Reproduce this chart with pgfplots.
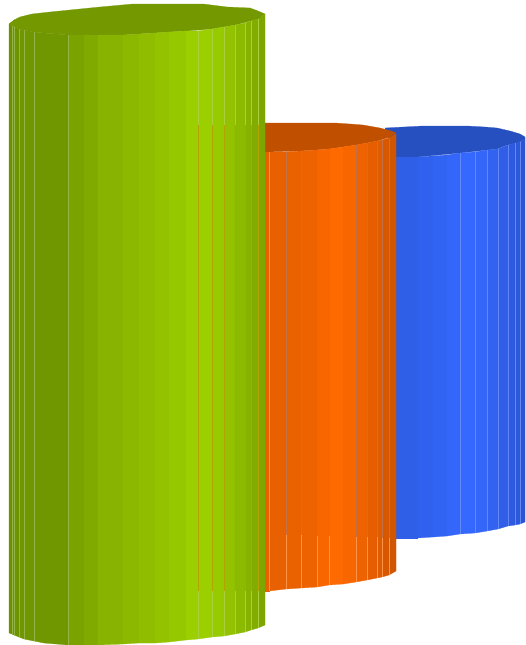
\documentclass[border=0pt]{standalone}
\usepackage{pgfplots}
\pgfplotsset{compat=1.18}
\definecolor{gtop}{HTML}{749800}
\definecolor{otop}{HTML}{C05000}
\definecolor{btop}{HTML}{2650C0}
\definecolor{gline}{HTML}{94B448}
\definecolor{gline2}{HTML}{ACD03C}
\definecolor{goline}{HTML}{B4A400}
\definecolor{oline}{HTML}{FF9448}
\definecolor{oline2}{HTML}{C47048}
\definecolor{bline}{HTML}{6288FA}
% green bands
\definecolor{ga}{HTML}{6C9000}\definecolor{gb}{HTML}{6E9300}\definecolor{gc}{HTML}{709600}
\definecolor{gd}{HTML}{7AA300}\definecolor{ge}{HTML}{80AA00}\definecolor{gf}{HTML}{88B300}
\definecolor{gg}{HTML}{8CB800}\definecolor{gh}{HTML}{90BD00}\definecolor{gi}{HTML}{92C200}
\definecolor{gj}{HTML}{96C800}\definecolor{gk}{HTML}{9CCF00}\definecolor{gl}{HTML}{98CA00}
\definecolor{gm}{HTML}{92C200}\definecolor{gn}{HTML}{8CBA00}\definecolor{go}{HTML}{86B200}
\definecolor{gp}{HTML}{82AD00}\definecolor{gq}{HTML}{7EA600}
% orange bands
\definecolor{oa}{HTML}{E86000}\definecolor{ob}{HTML}{EA6100}\definecolor{oc}{HTML}{EE6200}
\definecolor{od}{HTML}{F86600}\definecolor{oe}{HTML}{FF6A00}\definecolor{of}{HTML}{F86600}
\definecolor{og}{HTML}{EE6200}\definecolor{oh}{HTML}{E65E00}\definecolor{oi}{HTML}{E05C00}
\definecolor{oj}{HTML}{D85800}\definecolor{ok}{HTML}{D05600}
% blue bands
\definecolor{ba}{HTML}{2E5FE6}\definecolor{bb}{HTML}{3060EE}\definecolor{bc}{HTML}{3264F4}
\definecolor{bd}{HTML}{3466FA}\definecolor{be}{HTML}{3468FF}\definecolor{bf}{HTML}{3466FA}
\definecolor{bg}{HTML}{3262F0}\definecolor{bh}{HTML}{305EE6}\definecolor{bi}{HTML}{2E5AE0}
\definecolor{bj}{HTML}{2C58DA}\definecolor{bk}{HTML}{2A54D2}
\newcommand{\F}[7]{\addplot[fill=#1,draw=#1,line width=0.25pt,mark=none] coordinates {(#2,#3)(#5,#6)(#5,#7)(#2,#4)} -- cycle;}
\newcommand{\Ln}[4]{\addplot[draw=#1,line width=0.5pt,mark=none] coordinates {(#2,#3)(#2,#4)};}
\begin{document}
\begin{tikzpicture}
\useasboundingbox (0,0) rectangle (525pt,645pt);
\begin{axis}[hide axis,scale only axis,width=525pt,height=645pt,anchor=south west,at={(0,0)},
  xmin=0,xmax=525,ymin=0,ymax=645,y dir=reverse,clip=true]
% ---------- blue
\addplot[fill=btop,draw=btop,line width=0.25pt,mark=none] coordinates {(385,128)(423,126)(467,126)(485,127)(497,128)(510,131)(520,134)(525,137)(525,139)(517,143)(507,145)(497,149)(487,150)(460,153)(417,157)(396,157)} -- cycle;
\F{ba}{396}{157}{538}{417}{157}{538}
\F{bb}{417}{157}{538}{433}{156}{537}
\F{bc}{433}{156}{537}{447}{155}{536}
\F{bd}{447}{155}{536}{460}{153}{534}
\F{be}{460}{153}{534}{475}{152}{533}
\F{bf}{475}{152}{533}{487}{150}{531}
\F{bg}{487}{150}{531}{498}{149}{529}
\F{bh}{498}{149}{529}{508}{145}{526}
\F{bi}{508}{145}{526}{515}{143}{525}
\F{bj}{515}{143}{525}{520}{142}{524}
\F{bk}{520}{142}{524}{525}{139}{522}
\Ln{bline}{460}{153}{534}\Ln{bline}{475}{152}{533}\Ln{bline}{487}{150}{531}
\Ln{bline}{498}{149}{529}\Ln{bline}{508}{145}{526}\Ln{bline}{515}{143}{525}\Ln{bline}{520}{142}{524}
% ---------- orange
\addplot[fill=otop,draw=otop,line width=0.25pt,mark=none] coordinates {(200,123)(335,123)(350,124)(363,125)(380,128)(391,131)(396,133)(390,137)(377,141)(356,145)(329,149)(300,151)(265,152)(200,152)} -- cycle;
\F{oa}{200}{152}{591}{269}{152}{591}
\F{oa}{269}{152}{591}{286}{152}{589}
\F{ob}{286}{152}{589}{301}{151}{588}
\F{oc}{301}{151}{588}{317}{150}{587}
\F{od}{317}{150}{587}{329}{149}{585}
\F{oe}{329}{149}{585}{343}{147}{584}
\F{of}{343}{147}{584}{356}{145}{582}
\F{og}{356}{145}{582}{367}{143}{580}
\F{oh}{367}{143}{580}{377}{141}{578}
\F{oi}{377}{141}{578}{382}{140}{577}
\F{oj}{382}{140}{577}{389}{138}{575}
\F{ok}{389}{138}{575}{396}{134}{571}
\Ln{oline}{269}{152}{591}
\Ln{oline2}{286}{152}{535}\Ln{oline}{286}{535}{589}
\Ln{oline2}{301}{151}{535}\Ln{oline}{301}{535}{588}
\Ln{oline2}{317}{150}{536}\Ln{oline}{317}{536}{587}
\Ln{oline2}{329}{149}{536}\Ln{oline}{329}{536}{585}
\Ln{oline2}{356}{145}{537}\Ln{oline}{356}{537}{582}
\Ln{oline2}{367}{143}{537}\Ln{oline}{367}{537}{580}
\Ln{oline2}{377}{141}{537}\Ln{oline}{377}{537}{578}
\Ln{oline2}{382}{140}{538}\Ln{oline}{382}{538}{577}
\Ln{oline2}{389}{138}{538}\Ln{oline}{389}{538}{575}
% ---------- green
\addplot[fill=gtop,draw=gtop,line width=0.25pt,mark=none] coordinates {(9,24)(14,20)(20,17)(32,14)(50,12)(100,7)(133,4)(203,4)(227,7)(250,8)(258,11)(265,14)(258,19)(235,25)(212,29)(186,31)(153,33)(123,35)(68,35)(34,32)(19,29)} -- cycle;
\F{ga}{9}{24}{633}{12}{26}{634}
\F{gb}{12}{26}{634}{14}{27}{635}
\F{gb}{14}{27}{635}{19}{29}{637}
\F{gc}{19}{29}{637}{24}{30}{639}
\F{gc}{24}{30}{639}{34}{32}{641}
\F{gc}{34}{32}{641}{44}{33}{643}
\F{gc}{44}{33}{643}{68}{35}{645}
\F{gd}{68}{35}{645}{84}{35}{645}
\F{ge}{84}{35}{645}{98}{35}{645}
\F{gf}{98}{35}{645}{123}{35}{644}
\F{gg}{123}{35}{644}{139}{34}{643}
\F{gh}{139}{34}{643}{155}{33}{643}
\F{gi}{155}{33}{643}{169}{32}{642}
\F{gj}{169}{32}{642}{186}{31}{640}
\F{gk}{186}{31}{640}{198}{31}{639}
\F{gk}{198}{31}{639}{212}{29}{637}
\F{gl}{212}{29}{637}{224}{27}{636}
\F{gm}{224}{27}{636}{235}{25}{634}
\F{gn}{235}{25}{634}{245}{23}{632}
\F{go}{245}{23}{632}{251}{21}{630}
\F{gp}{251}{21}{630}{258}{19}{628}
\F{gq}{258}{19}{628}{265}{14}{625}
\Ln{gline}{12}{26}{634}\Ln{gline}{14}{27}{635}\Ln{gline}{19}{29}{637}
\Ln{gline}{24}{30}{639}\Ln{gline}{34}{32}{641}\Ln{gline}{68}{35}{645}
\Ln{gline2}{198}{31}{125}\Ln{goline}{198}{125}{591}\Ln{gline2}{198}{591}{639}
\Ln{gline2}{212}{29}{125}\Ln{goline}{212}{125}{591}\Ln{gline2}{212}{591}{637}
\Ln{gline2}{224}{27}{125}\Ln{goline}{224}{125}{591}\Ln{gline2}{224}{591}{636}
\Ln{gline2}{235}{25}{125}\Ln{goline}{235}{125}{591}\Ln{gline2}{235}{591}{634}
\Ln{gline2}{245}{23}{125}\Ln{goline}{245}{125}{591}\Ln{gline2}{245}{591}{632}
\Ln{gline2}{251}{21}{125}\Ln{goline}{251}{125}{591}\Ln{gline2}{251}{591}{630}
\Ln{gline2}{258}{19}{125}\Ln{goline}{258}{125}{591}\Ln{gline2}{258}{591}{628}
\end{axis}
\end{tikzpicture}
\end{document}
